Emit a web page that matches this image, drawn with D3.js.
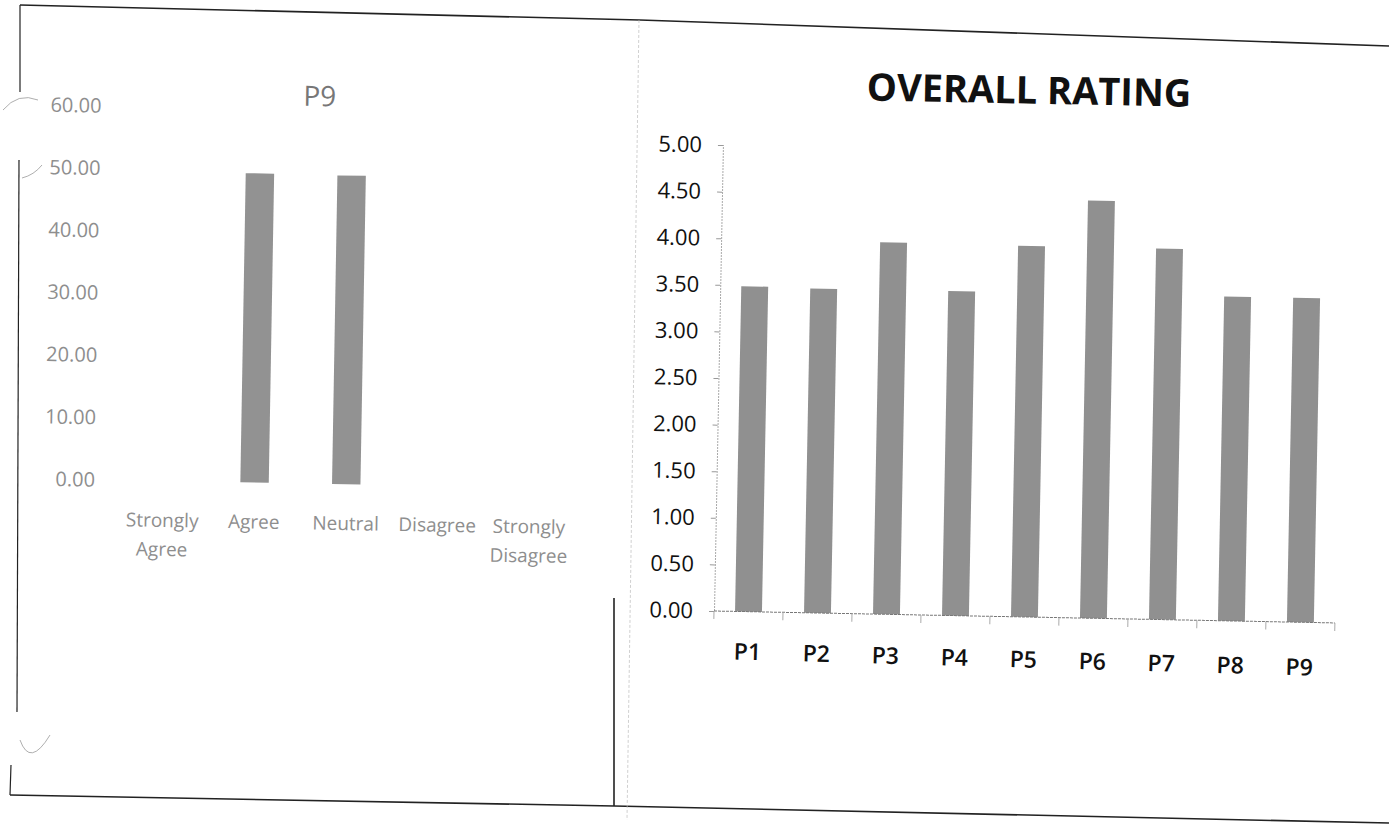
<!DOCTYPE html>
<html><head><meta charset="utf-8">
<script src="https://cdn.jsdelivr.net/npm/d3@7"></script>
<style>body{margin:0;background:#fff}svg{display:block}</style>
</head><body>
<svg id="c" width="1389" height="825"></svg>
<script>
// ---- data ----
const p9Title = "P9";
const p9Categories = ["Strongly Agree", "Agree", "Neutral", "Disagree", "Strongly Disagree"];
const p9Values = [0, 49.6, 49.5, 0, 0];
const p9Ticks = [0, 10, 20, 30, 40, 50, 60];

const overallTitle = "OVERALL RATING";
const overallCategories = ["P1", "P2", "P3", "P4", "P5", "P6", "P7", "P8", "P9"];
const overallValues = [3.49, 3.48, 3.99, 3.48, 3.98, 4.48, 3.98, 3.48, 3.48];
const overallTicks = [0, 0.5, 1, 1.5, 2, 2.5, 3, 3.5, 4, 4.5, 5];

const FONT = "'Open Sans', 'DejaVu Sans', sans-serif";
const svg = d3.select("#c");
svg.append("rect").attr("width", 1389).attr("height", 825).attr("fill", "#fff");

// ---- scanned page frame ----
const frame = svg.append("g").attr("fill", "none").attr("stroke", "#222");
const line = d3.line();
frame.append("path").attr("stroke-width", 1.6).attr("d", line([[20, 5], [640, 20], [1389, 46]]));
frame.append("path").attr("stroke-width", 1.6).attr("d", line([[10, 795], [614, 806], [1389, 823]]));
frame.append("path").attr("stroke-width", 1.2).attr("d", line([[20, 5], [20, 92]]));
frame.append("path").attr("stroke-width", 1.2).attr("d", line([[19, 160], [17, 712]]));
frame.append("path").attr("stroke-width", 1.2).attr("d", line([[11, 765], [10, 795]]));
frame.append("path").attr("stroke-width", 0.8).attr("stroke", "#999").attr("d", "M3,110 Q18,92 38,100");
frame.append("path").attr("stroke-width", 0.8).attr("stroke", "#999").attr("d", "M22,178 Q34,175 42,165");
frame.append("path").attr("stroke-width", 0.8).attr("stroke", "#999").attr("d", "M20,740 Q30,768 50,735");
frame.append("path").attr("stroke-width", 1.6).attr("d", line([[614, 598], [614, 806]]));
frame.append("path").attr("stroke-width", 0.7).attr("stroke", "#bbb").attr("stroke-dasharray", "3,2")
  .attr("d", line([[639, 20], [627, 820]]));

// ---- left chart: P9 ----
const gL = svg.append("g").attr("transform", "rotate(1.0,253,482.3)");
const xL = d3.scaleBand().domain(p9Categories).range([117, 575.5]).paddingInner(0.69).paddingOuter(0.345);
const yL = d3.scaleLinear().domain([0, 60]).range([482.5, 108.5]);

const axL = gL.append("g").attr("transform", "translate(95,0)")
  .call(d3.axisLeft(yL).tickValues(p9Ticks).tickFormat(d3.format(".2f")).tickSize(0).tickPadding(0));
axL.select(".domain").remove();
axL.selectAll("text").attr("font-family", FONT).attr("font-size", 20).attr("fill", "#8e8e8e");

gL.selectAll("rect.bar").data(p9Values).join("rect").attr("class", "bar")
  .attr("x", (d, i) => xL(p9Categories[i]))
  .attr("y", d => yL(d))
  .attr("width", xL.bandwidth())
  .attr("height", d => yL(0) - yL(d))
  .attr("fill", d => d > 0 ? "#929292" : "none");

const axLB = gL.append("g").attr("transform", "translate(0,482.5)")
  .call(d3.axisBottom(xL).tickSize(0).tickPadding(0));
axLB.select(".domain").remove();
axLB.selectAll("text").each(function (c) {
  const t = d3.select(this).text(null).attr("dy", null).attr("y", 0)
    .attr("font-family", FONT).attr("font-size", 19).attr("fill", "#8e8e8e");
  const lines = c.startsWith("Strongly") ? c.split(" ") : [c];
  lines.forEach((w, k) => t.append("tspan").attr("x", 0).attr("y", 46 + k * 29).text(w));
});

gL.append("text").attr("x", 313).attr("y", 105).attr("text-anchor", "middle")
  .attr("font-family", FONT).attr("font-size", 28).attr("fill", "#777").text(p9Title);

// ---- right chart: OVERALL RATING ----
const gR = svg.append("g").attr("transform", "rotate(1.1,714,611)");
const xR = d3.scaleBand().domain(overallCategories).range([714, 1335]).paddingInner(0.61).paddingOuter(0.305);
const yR = d3.scaleLinear().domain([0, 5]).range([611, 145]);

gR.selectAll("rect.bar").data(overallValues).join("rect").attr("class", "bar")
  .attr("x", (d, i) => xR(overallCategories[i]))
  .attr("y", d => yR(d))
  .attr("width", xR.bandwidth())
  .attr("height", d => yR(0) - yR(d))
  .attr("fill", "#909090");

const axR = gR.append("g").attr("transform", "translate(714,0)")
  .call(d3.axisLeft(yR).tickValues(overallTicks).tickFormat(d3.format(".2f")).tickSize(5).tickPadding(16));
axR.select(".domain").attr("stroke", "#aaa").attr("stroke-dasharray", "2,1");
axR.selectAll(".tick line").attr("stroke", "#999");
axR.selectAll("text").attr("font-family", FONT).attr("font-size", 22).attr("fill", "#111");

// baseline with category-boundary ticks
const step = xR.step();
const bounds = d3.range(overallCategories.length + 1).map(i => xR.range()[0] + i * step);
gR.append("line").attr("x1", bounds[0]).attr("x2", bounds[bounds.length - 1])
  .attr("y1", yR(0)).attr("y2", yR(0)).attr("stroke", "#777").attr("stroke-dasharray", "3,1");
gR.selectAll("line.bt").data(bounds).join("line").attr("class", "bt")
  .attr("x1", d => d).attr("x2", d => d).attr("y1", yR(0)).attr("y2", yR(0) + 8)
  .attr("stroke", "#aaa");

const axRB = gR.append("g").attr("transform", `rotate(0.5,714,611) translate(0,${yR(0)})`)
  .call(d3.axisBottom(xR).tickSize(0).tickPadding(31.5));
axRB.select(".domain").remove();
axRB.selectAll("text").attr("font-family", FONT).attr("font-size", 23).attr("font-weight", 600).attr("fill", "#111");

gR.append("text").attr("x", 1019).attr("y", 97.6).attr("text-anchor", "middle")
  .attr("font-family", FONT).attr("font-size", 38).attr("font-weight", 700).attr("fill", "#111")
  .text(overallTitle);
</script>
</body></html>
